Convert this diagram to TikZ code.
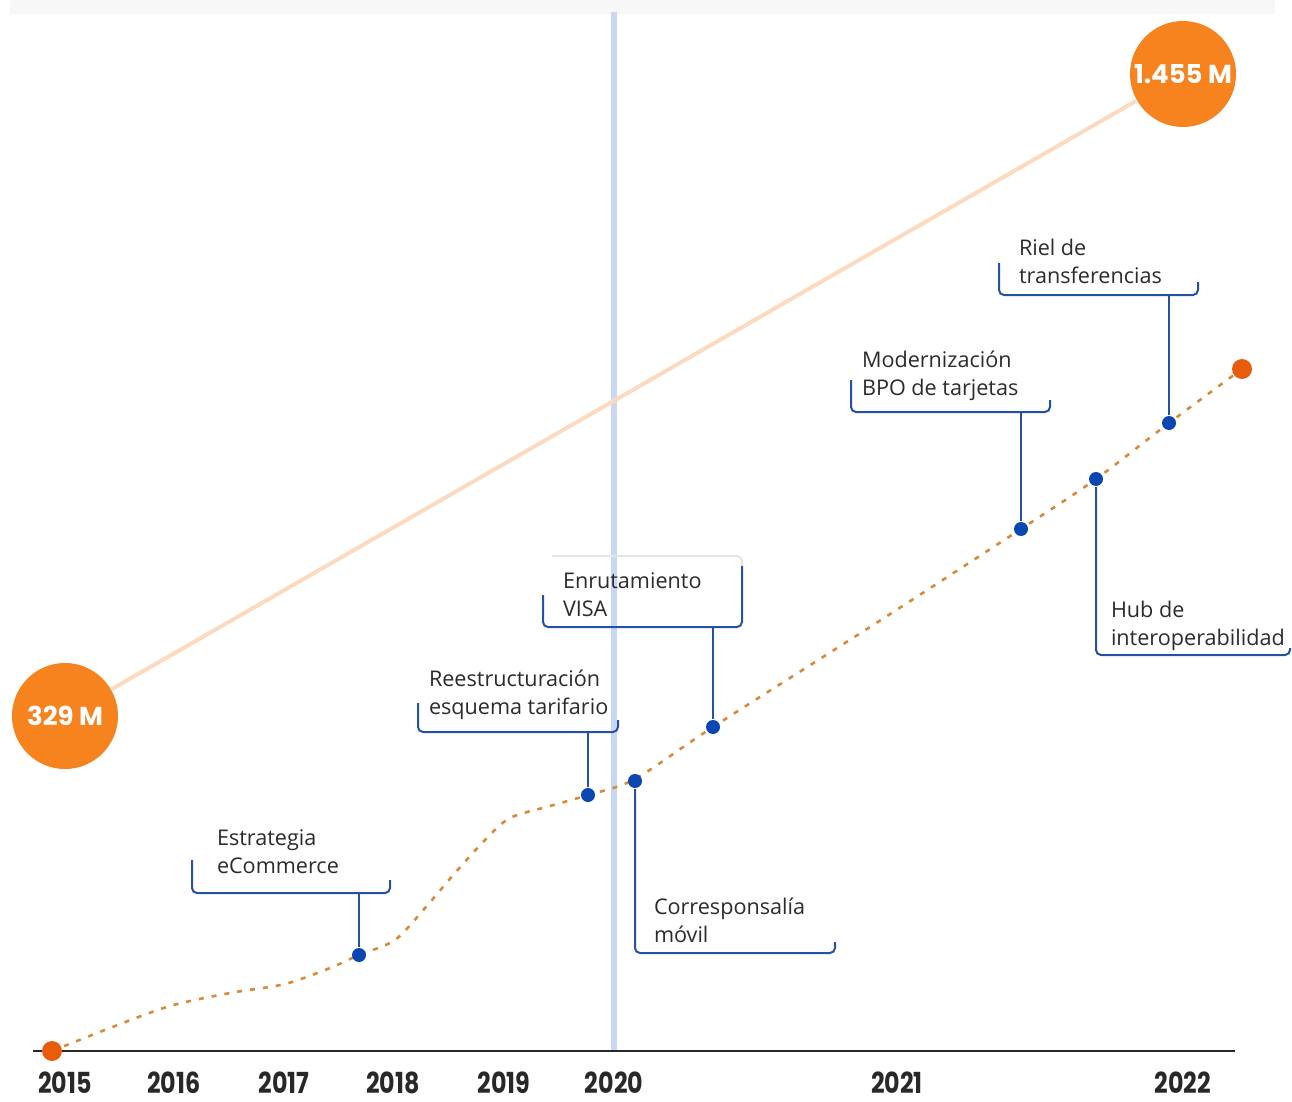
\documentclass[tikz,border=0pt]{standalone}
\usepackage{fontspec}
\setmainfont{Open Sans}
\newfontfamily\yrfont[FakeStretch=0.82]{Poppins}
\newfontfamily\bubfont{Poppins}
\usetikzlibrary{positioning, calc}
\definecolor{bubbleorange}{RGB}{247,131,31}
\definecolor{dotorange}{RGB}{232,93,12}
\definecolor{trendorange}{RGB}{217,137,58}
\definecolor{peach}{RGB}{252,218,192}
\definecolor{markblue}{RGB}{200,216,244}
\definecolor{dotblue}{RGB}{11,71,179}
\definecolor{lineblue}{RGB}{36,80,168}
\definecolor{axisgray}{RGB}{40,40,40}
\definecolor{labelgray}{RGB}{43,43,43}
\tikzset{
  every picture/.style={line width=1pt},
  bubble/.style={circle, fill=bubbleorange, text=white, minimum size=53pt, inner sep=0pt, font=\bubfont\bfseries\fontsize{13}{15}\selectfont},
  year/.style={anchor=base, text=axisgray, inner sep=0pt, font=\yrfont\bfseries\fontsize{14.5}{16}\selectfont},
  bdot/.style={circle, fill=dotblue, minimum size=7pt, inner sep=0pt},
  odot/.style={circle, fill=dotorange, minimum size=10pt, inner sep=0pt},
  callout/.style={anchor=north west, align=left, inner sep=0pt, text=labelgray, font=\fontsize{10.8}{14}\selectfont},
  bracket/.style={draw=lineblue, line width=1pt, rounded corners=2.5pt},
  conn/.style={draw=lineblue, line width=1pt},
  trend/.style={draw=trendorange, line width=1.3pt, dash pattern=on 2.5pt off 4pt},
  %every node/.append style={draw=red},
}
\begin{document}
\begin{tikzpicture}[x=0.5pt, y=-0.5pt]
    \useasboundingbox (0,0) rectangle (1292,1102);
    \fill[gray!6] (10,0) rectangle (1275,14);

    % 2020 marker and axis
    \draw[markblue, line width=3pt] (614,12) -- (614,1050);
    \draw[axisgray] (33,1051) -- (1235,1051);
    \foreach \yr/\xp in {2015/65, 2016/174, 2017/284, 2018/393, 2019/504, 2020/614, 2021/897, 2022/1183}
      \node[year] (y\yr) at (\xp,1093) {\yr};

    % totals
    \node[bubble] (c329) at (65,716) {329 M};
    \node[bubble] (c1455) at (1183,74) {1.455 M};
    \draw[peach, line width=2pt] (c329) -- (c1455);

    % growth curve
    \draw[trend] plot[smooth, tension=0.5] coordinates {(52,1051) (110,1028) (170,1006) (230,993) (285,984) (330,968) (359,955) (395,940) (425,908) (455,873) (485,840) (510,818) (550,806) (588,795) (635,779) (713,727) (870,627) (1021,529) (1096,479) (1169,423) (1242,369)};
    \node[odot] (start) at (52,1051) {};
    \node[odot] (end) at (1242,369) {};
    \node[bdot] (d1) at (359,955) {};
    \node[bdot] (d2) at (588,795) {};
    \node[bdot] (d3) at (635,781) {};
    \node[bdot] (d4) at (713,727) {};
    \node[bdot] (d5) at (1021,529) {};
    \node[bdot] (d6) at (1096,479) {};
    \node[bdot] (d7) at (1169,423) {};

    % callouts above
    \node[callout] (ecom) at (216,829) {Estrategia\\eCommerce};
    \draw[bracket] (192,860) -- (192,893) -- (390,893) -- (390,880);
    \coordinate (ecomB) at (359,893);
    \draw[conn] (ecomB) -- (d1);

    \node[callout] (tarif) at (428,669) {Reestructuración\\esquema tarifario};
    \draw[bracket] (418,703) -- (418,732) -- (618,732) -- (618,720);
    \coordinate (tarifB) at (588,732);
    \draw[conn] (tarifB) -- (d2);

    \node[callout] (visa) at (562,572) {Enrutamiento\\VISA};
    \draw[gray!20, rounded corners=2.5pt] (552,556) -- (742,556) -- (742,575);
    \draw[bracket] (543,595) -- (543,627) -- (742,627) -- (742,566);
    \coordinate (visaB) at (713,627);
    \draw[conn] (visaB) -- (d4);

    \node[callout] (bpo) at (861,350) {Modernización\\BPO de tarjetas};
    \draw[bracket] (851,380) -- (851,412) -- (1050,412) -- (1050,400);
    \coordinate (bpoB) at (1021,412);
    \draw[conn] (bpoB) -- (d5);

    \node[callout] (riel) at (1018,238) {Riel de\\transferencias};
    \draw[bracket] (999,263) -- (999,295) -- (1198,295) -- (1198,282);
    \coordinate (rielB) at (1169,295);
    \draw[conn] (rielB) -- (d7);

    % callouts below
    \node[callout] (movil) at (653,897) {Corresponsalía\\móvil};
    \draw[bracket] (d3) -- (635,953) -- (835,953) -- (835,942);

    \node[callout] (hub) at (1110,600) {Hub de\\interoperabilidad};
    \draw[bracket] (d6) -- (1096,655) -- (1290,655) -- (1290,648);
\end{tikzpicture}
\end{document}
